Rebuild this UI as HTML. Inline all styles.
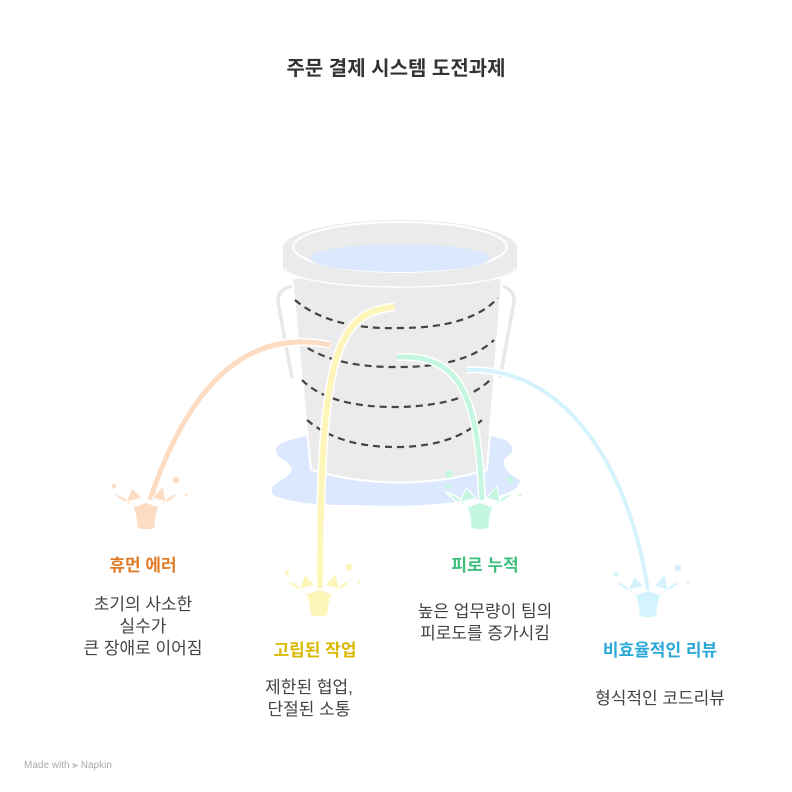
<!DOCTYPE html>
<html><head><meta charset="utf-8"><style>
html,body{margin:0;padding:0;background:#fff;}
svg{display:block;}
text{font-family:"Liberation Sans","Noto Sans CJK KR",sans-serif;}
</style></head><body>
<svg width="792" height="792" viewBox="0 0 792 792" xmlns="http://www.w3.org/2000/svg">
<defs>
<g id="splash">
<path d="M-34,-6 Q-22,-2 -16,4 Q-10,12 -9,30 Q0,34 9,30 Q10,12 16,4 Q22,-2 34,-6 Q24,6 10,8 L0,4 L-10,8 Q-24,6 -34,-6 Z" stroke="#fff" stroke-width="1.5"/>
<path d="M-20,4 L-14,-10 L-4,0 Z M20,4 L17,-12 L6,0 Z" stroke="#fff" stroke-width="1"/>
<circle cx="-32" cy="-12" r="2.3"/><circle cx="30" cy="-18" r="3.3"/><circle cx="40" cy="-3" r="1.3"/>
</g>
</defs>
<text x="396" y="75" text-anchor="middle" font-size="20" font-weight="bold" fill="#333">주문 결제 시스템 도전과제</text>

<!-- puddle -->
<path d="M290,440 Q330,428 400,432 Q480,430 505,440 Q520,450 505,458 Q500,470 520,480 Q520,496 470,500 Q420,508 360,505 Q300,506 275,496 Q265,488 285,478 Q300,468 280,458 Q268,446 290,440 Z" fill="#dce8fd"/>
<!-- handles -->
<path d="M292,286 Q277,290 278,302 L292,378" fill="none" stroke="#e8e8e8" stroke-width="3.5"/>
<path d="M502,286 Q515,290 514,302 L500,378" fill="none" stroke="#e8e8e8" stroke-width="3.5"/>
<!-- body -->
<path d="M292,278 L502,278 L487,470 Q400,495 311,470 Z" fill="#ebebeb" stroke="#fff" stroke-width="2"/>
<!-- rim -->
<path d="M283,248 A117,28 0 0 1 517,248 L517,268 A117,20 0 0 1 283,268 Z" fill="#ebebeb"/>
<path d="M285,268 A115,19 0 0 0 515,268" fill="none" stroke="#fff" stroke-width="1.5"/>
<ellipse cx="400" cy="247" rx="107" ry="25" fill="#ebebeb" stroke="#fff" stroke-width="2"/>
<ellipse cx="400" cy="258" rx="90" ry="14" fill="#dce8fd"/>
<!-- dashed bands -->
<g fill="none" stroke="#444" stroke-width="2.2" stroke-dasharray="7,5">
<path d="M295,300 Q330,330 400,328 Q470,328 498,298"/>
<path d="M298,341 Q330,368 400,367 Q465,367 494,340"/>
<path d="M302,380 Q330,408 400,407 Q465,405 490,380"/>
<path d="M307,420 Q340,448 400,447 Q455,446 484,418"/>
</g>
<!-- streams -->
<path d="M330,345 Q210,320 150,500" fill="none" stroke="#fff" stroke-width="8"/>
<path d="M330,345 Q210,320 150,500" fill="none" stroke="#fddcc4" stroke-width="5"/>
<use href="#splash" x="146" y="498" fill="#fddcc4"/>

<path d="M394,307 C335,312 320,360 320,588" fill="none" stroke="#fff" stroke-width="9"/>
<path d="M394,307 C335,312 320,360 320,588" fill="none" stroke="#fef5b8" stroke-width="6"/>
<use href="#splash" x="319" y="585" fill="#fef5b8"/>

<path d="M397,357 C455,355 478,385 482,500" fill="none" stroke="#fff" stroke-width="8"/>
<path d="M397,357 C455,355 478,385 482,500" fill="none" stroke="#c5f7e0" stroke-width="5"/>
<circle cx="449" cy="474" r="4" fill="#c5f7e0"/>
<use href="#splash" x="480" y="498" fill="#c5f7e0"/>

<path d="M466,370 C560,365 628,460 648,590" fill="none" stroke="#fff" stroke-width="7"/>
<path d="M466,370 C560,365 628,460 648,590" fill="none" stroke="#d4f3fd" stroke-width="4"/>
<use href="#splash" x="648" y="586" fill="#d4f3fd"/>

<!-- labels -->
<g font-size="17" font-weight="bold" text-anchor="middle">
<text x="143" y="571" fill="#e07b28">휴먼 에러</text>
<text x="315" y="656" fill="#d9b800">고립된 작업</text>
<text x="485" y="571" fill="#3dbf7c">피로 누적</text>
<text x="660" y="656" fill="#2aa8d8">비효율적인 리뷰</text>
</g>
<g font-size="17" fill="#444" text-anchor="middle">
<text x="143" y="610">초기의 사소한</text>
<text x="143" y="632">실수가</text>
<text x="143" y="654">큰 장애로 이어짐</text>
<text x="309" y="693">제한된 협업,</text>
<text x="309" y="715">단절된 소통</text>
<text x="485" y="617">높은 업무량이 팀의</text>
<text x="485" y="639">피로도를 증가시킴</text>
<text x="660" y="704">형식적인 코드리뷰</text>
</g>
<text x="24" y="768" font-size="10" fill="#aaa">Made with ⫸ Napkin</text>
</svg>
</body></html>
